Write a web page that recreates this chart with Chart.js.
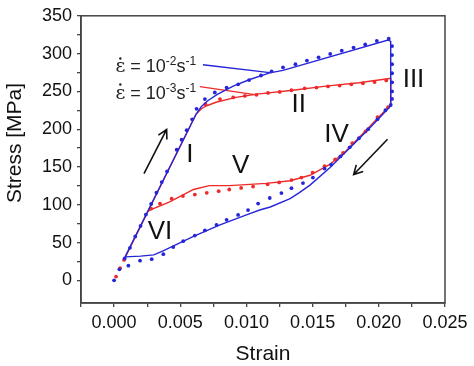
<!DOCTYPE html>
<html lang="en">
<head>
<meta charset="UTF-8">
<title>Stress-strain loop</title>
<script src="https://cdn.jsdelivr.net/npm/chart.js"></script>
<style>
  html, body { margin: 0; padding: 0; background: #fff; }
  #wrap { width: 474px; height: 366px; }
</style>
</head>
<body>
<div id="wrap"><canvas id="chart" width="474" height="366"></canvas></div>
<script>
// values: [strain, stress MPa]
const blueLine = [
  [0.00083, 31], [0.0062, 220], [0.0066, 230], [0.0071, 238], [0.0078, 246], [0.0090, 257],
  [0.01025, 265.7], [0.01176, 274.4], [0.01276, 277.8], [0.0207, 318], [0.0209, 316], [0.0209, 231],
  [0.0200, 214], [0.0190, 196], [0.0178, 175], [0.0163, 149], [0.0148, 126], [0.0140, 116],
  [0.0133, 108], [0.0118, 97], [0.0110, 93], [0.0100, 86.5], [0.0080, 73.5], [0.0060, 58.3],
  [0.0037, 39], [0.0030, 33.7], [0.0020, 32], [0.00083, 31]
];
const redLine = [
  [0.00083, 30], [0.0062, 220], [0.0066, 227], [0.0070, 231], [0.0077, 235.6], [0.0092, 242],
  [0.0108, 246.3], [0.0135, 251.5], [0.0160, 257], [0.0185, 261.4], [0.0208, 267], [0.0209, 267],
  [0.0209, 232], [0.0200, 216], [0.0188, 194.4], [0.0175, 170.7], [0.0163, 153.4], [0.0148, 139],
  [0.0133, 131.8], [0.0115, 128.3], [0.0087, 125.3], [0.0072, 125.3], [0.0060, 120.2],
  [0.0042, 103.7], [0.0027, 93], [0.0025, 90]
];
const blueDots = [
  [0, 0], [0.0004, 14.5], [0.0008, 29], [0.0012, 43], [0.0016, 58], [0.0020, 72], [0.0024, 87],
  [0.0028, 101], [0.0032, 116], [0.0036, 130], [0.0040, 144], [0.00473, 172.8], [0.0051, 186],
  [0.00548, 198.7], [0.0059, 213], [0.00623, 226.9], [0.00686, 239.8], [0.00761, 248.5],
  [0.0085, 255], [0.00937, 259.3], [0.0102, 265], [0.0111, 271], [0.0119, 276.5],
  [0.01276, 281.7], [0.0137, 286], [0.01457, 290.8], [0.01545, 295], [0.01633, 299.5],
  [0.0172, 303.8], [0.01809, 308], [0.01897, 312], [0.01985, 316.7], [0.02075, 319.7],
  [0.0210, 310], [0.0210, 298], [0.0210, 286], [0.0210, 274], [0.0210, 262], [0.0210, 250],
  [0.0210, 240], [0.0209, 232], [0.0205, 225], [0.0199, 213], [0.0192, 200], [0.0185, 188],
  [0.0178, 176], [0.0171, 164], [0.0164, 153], [0.0159, 147.8], [0.01502, 136], [0.01427, 128.7],
  [0.0134, 121.9], [0.01264, 115.4], [0.01176, 108.9], [0.01088, 101.5], [0.01012, 93],
  [0.00937, 86.5], [0.0085, 80], [0.00774, 73.5], [0.00686, 66], [0.0061, 59.2], [0.00522, 51.8],
  [0.00447, 44], [0.00372, 34.6], [0.00284, 28], [0.00196, 26], [0.00108, 19.4]
];
const redDots = [
  [0.00015, 5], [0.00045, 16], [0.00075, 27], [0.0069, 233], [0.0080, 239.8], [0.0090, 242],
  [0.00988, 244], [0.01076, 245.4], [0.01163, 248], [0.01251, 249.3], [0.0134, 251.5],
  [0.0144, 254], [0.01529, 255], [0.01616, 256.5], [0.01704, 257.7], [0.01792, 259.3],
  [0.0188, 260.6], [0.01968, 262.3], [0.02056, 264.5], [0.0207, 229], [0.0199, 216],
  [0.0190, 197], [0.0180, 181.5], [0.0173, 168.5], [0.0167, 160], [0.0159, 151], [0.0150, 142.6],
  [0.01415, 136], [0.0134, 132.6], [0.01247, 129.6], [0.0116, 127], [0.0105, 124],
  [0.0096, 122.3], [0.0087, 120.2], [0.0079, 118], [0.0070, 115.8], [0.0061, 113.5],
  [0.0052, 111.5], [0.00435, 108], [0.00347, 101.5], [0.0028, 95]
];
// leader lines from the rate labels to the curves
const blueLeader = [[0.00671, 285.2], [0.01176, 274.8]];
const redLeader = [[0.00648, 256.3], [0.01076, 245.4]];

const xTickStep = 0.0025;
const yTickStep = 25;

const BLUE = '#2626d8';
const RED = '#ee2a2a';
const FONT = '"Liberation Sans", Arial, sans-serif';

const toXY = arr => arr.map(p => ({ x: p[0], y: p[1] }));

// region labels, placed in data coordinates
const regionLabels = [
  { text: 'I', x: 0.00573, y: 166 },
  { text: 'II', x: 0.01395, y: 232 },
  { text: 'III', x: 0.02262, y: 265.7 },
  { text: 'IV', x: 0.01681, y: 193 },
  { text: 'V', x: 0.00957, y: 151.7 },
  { text: 'VI', x: 0.00347, y: 64.8 }
];
const arrows = [
  { from: [0.00226, 141.3], to: [0.00397, 199.6] },
  { from: [0.02066, 186.7], to: [0.0181, 140] }
];
const rateLabels = [
  { exp: '-2', x: 0.0001, y: 283 },
  { exp: '-3', x: 0.0001, y: 248.5 }
];

const decorations = {
  id: 'decorations',
  afterDraw(chart) {
    const { ctx, chartArea: a, scales: { x, y } } = chart;
    ctx.save();
    // frame
    ctx.strokeStyle = '#444';
    ctx.lineWidth = 1.5;
    ctx.strokeRect(a.left, a.top, a.right - a.left, a.bottom - a.top);

    // region numerals
    ctx.fillStyle = '#111';
    ctx.font = '26px ' + FONT;
    ctx.textAlign = 'center';
    ctx.textBaseline = 'middle';
    regionLabels.forEach(l => ctx.fillText(l.text, x.getPixelForValue(l.x), y.getPixelForValue(l.y)));

    // arrows
    ctx.strokeStyle = '#111';
    ctx.lineWidth = 1.6;
    arrows.forEach(ar => {
      const x1 = x.getPixelForValue(ar.from[0]), y1 = y.getPixelForValue(ar.from[1]);
      const x2 = x.getPixelForValue(ar.to[0]), y2 = y.getPixelForValue(ar.to[1]);
      const ang = Math.atan2(y2 - y1, x2 - x1);
      ctx.beginPath();
      ctx.moveTo(x1, y1);
      ctx.lineTo(x2, y2);
      ctx.moveTo(x2 - 10 * Math.cos(ang - 0.5), y2 - 10 * Math.sin(ang - 0.5));
      ctx.lineTo(x2, y2);
      ctx.lineTo(x2 - 10 * Math.cos(ang + 0.5), y2 - 10 * Math.sin(ang + 0.5));
      ctx.stroke();
    });

    // strain rate labels (epsilon with a dot above)
    ctx.textAlign = 'left';
    ctx.textBaseline = 'alphabetic';
    ctx.fillStyle = '#222';
    rateLabels.forEach(l => {
      let px = x.getPixelForValue(l.x);
      const base = y.getPixelForValue(l.y) + 6;
      const big = '18px ' + FONT, small = '12px ' + FONT;
      ctx.font = '19px "DejaVu Serif", serif';
      const ew = ctx.measureText('\u03B5').width;
      ctx.fillText('\u03B5', px, base);
      ctx.beginPath();
      ctx.arc(px + ew / 2, base - 14, 1.2, 0, Math.PI * 2);
      ctx.fill();
      px += ew;
      const parts = [[' = 10', big, 0], [l.exp, small, -7], ['s', big, 0], ['-1', small, -7]];
      parts.forEach(p => {
        ctx.font = p[1];
        ctx.fillText(p[0], px, base + p[2]);
        px += ctx.measureText(p[0]).width;
      });
    });

    // y axis title
    ctx.font = '21px ' + FONT;
    ctx.fillStyle = '#111';
    ctx.textAlign = 'center';
    ctx.textBaseline = 'middle';
    ctx.translate(15, 143);
    ctx.rotate(-Math.PI / 2);
    ctx.fillText('Stress [MPa]', 0, 0);
    ctx.restore();
  }
};

const onStep = (v, step) => Math.abs(v / step - Math.round(v / step)) < 1e-6;

// Chart.js paints the first dataset on top, so the blue curves go first
new Chart(document.getElementById('chart'), {
  type: 'scatter',
  data: {
    datasets: [
      { data: toXY(blueDots), showLine: false, backgroundColor: BLUE, borderWidth: 0, pointRadius: 1.9 },
      { data: toXY(blueLine), showLine: true, borderColor: BLUE, borderWidth: 1.4, pointRadius: 0 },
      { data: toXY(redDots), showLine: false, backgroundColor: RED, borderWidth: 0, pointRadius: 1.9 },
      { data: toXY(redLine), showLine: true, borderColor: RED, borderWidth: 1.4, pointRadius: 0 },
      { data: toXY(blueLeader), showLine: true, borderColor: BLUE, borderWidth: 1.4, pointRadius: 0 },
      { data: toXY(redLeader), showLine: true, borderColor: RED, borderWidth: 1.4, pointRadius: 0 }
    ]
  },
  options: {
    responsive: false,
    animation: false,
    layout: { padding: { top: 10, right: 29, left: 0, bottom: 0 } },
    plugins: { legend: { display: false }, tooltip: { enabled: false } },
    scales: {
      x: {
        type: 'linear',
        min: -0.0025,
        max: 0.025,
        afterFit: s => { s.height = 63; },
        border: { color: '#444', width: 1.5 },
        grid: { drawOnChartArea: false, tickLength: 4, color: '#444', lineWidth: 1.3 },
        ticks: {
          stepSize: xTickStep,
          padding: 5,
          maxRotation: 0,
          autoSkip: false,
          color: '#111',
          font: { family: FONT, size: 18 },
          callback: v => (v >= 0 && onStep(v, 0.005)) ? v.toFixed(3) : ''
        },
        title: { display: true, text: 'Strain', color: '#111', font: { family: FONT, size: 21 }, padding: { top: 0, bottom: -1 } }
      },
      y: {
        min: -30,
        max: 350,
        afterFit: s => { s.width = 81; },
        border: { color: '#444', width: 1.5 },
        grid: {
          drawOnChartArea: false, tickLength: 4, lineWidth: 1.3,
          color: c => (c.tick && onStep(c.tick.value, yTickStep)) ? '#444' : 'rgba(0,0,0,0)'
        },
        ticks: {
          stepSize: yTickStep,
          padding: 5,
          autoSkip: false,
          color: '#111',
          font: { family: FONT, size: 18 },
          callback: v => (v >= 0 && onStep(v, 50)) ? String(v) : ''
        }
      }
    }
  },
  plugins: [decorations]
});
</script>
</body>
</html>
